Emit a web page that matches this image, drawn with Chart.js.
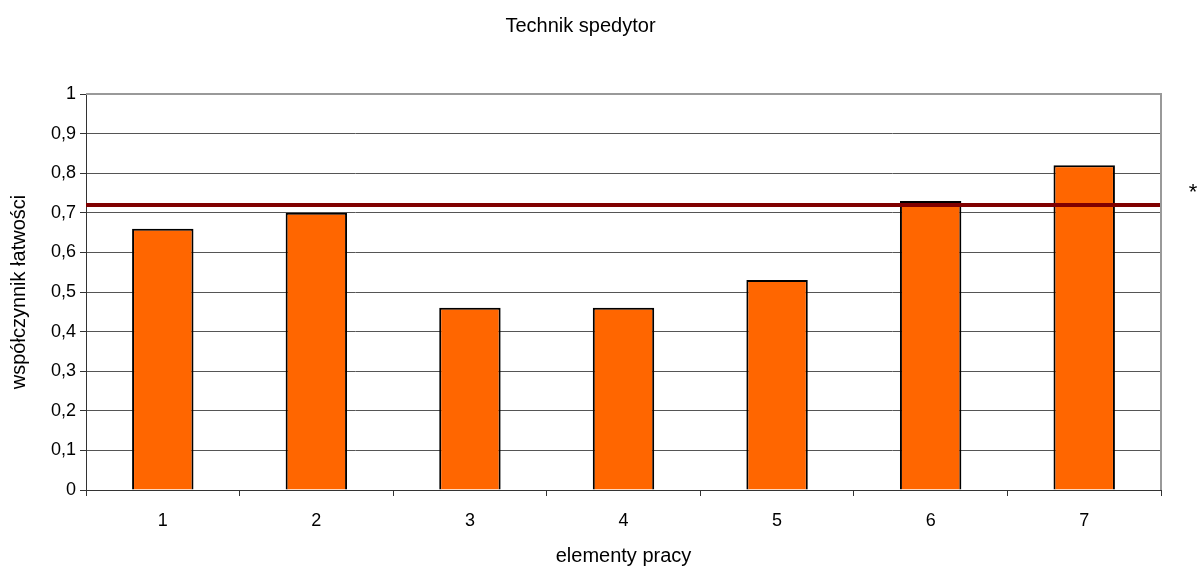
<!DOCTYPE html>
<html><head><meta charset="utf-8">
<script src="https://cdn.jsdelivr.net/npm/chart.js@4/dist/chart.umd.min.js"></script>
<style>html,body{margin:0;padding:0;background:#fff}#wrap{width:1201px;height:568px}</style>
</head><body><div id="wrap"><canvas id="c" width="1201" height="568"></canvas></div>
<script>
const categories = ['1','2','3','4','5','6','7'];
const values = [0.66, 0.70, 0.46, 0.46, 0.53, 0.73, 0.82];
const refValue = 0.72;
const refLabel = '*';
const yTicks = [0,0.1,0.2,0.3,0.4,0.5,0.6,0.7,0.8,0.9,1];
const FONT = "'Liberation Sans', Arial, sans-serif";
const TICK_SIZE = 18;
const TITLE_SIZE = 20;

const framePlugin = {
  id: 'frame',
  afterDraw(chart) {
    const {ctx, chartArea: a, scales} = chart;
    ctx.save();
    ctx.strokeStyle = '#999';
    ctx.lineWidth = 2;
    ctx.beginPath();
    ctx.moveTo(a.left, a.top); ctx.lineTo(a.right, a.top); ctx.lineTo(a.right, a.bottom);
    ctx.stroke();
    const y = scales.y.getPixelForValue(refValue);
    ctx.fillStyle = '#000';
    ctx.font = '22px ' + FONT;
    ctx.textAlign = 'center';
    ctx.textBaseline = 'middle';
    ctx.fillText(refLabel, 1193, y - 12);
    ctx.restore();
  }
};

new Chart(document.getElementById('c'), {
  type: 'bar',
  data: {
    labels: categories,
    datasets: [
      {
        type: 'line',
        data: [{x:0,y:refValue},{x:1,y:refValue}],
        xAxisID: 'x2',
        borderColor: '#800000',
        borderWidth: 4,
        pointRadius: 0,
        order: 0
      },
      {
        type: 'bar',
        data: values,
        xAxisID: 'x',
        backgroundColor: '#FF6600',
        borderColor: '#000',
        borderWidth: 2,
        grouped: false,
        barPercentage: 0.4,
        categoryPercentage: 1,
        order: 1
      }
    ]
  },
  options: {
    responsive: false,
    animation: false,
    layout: { padding: { left: 0, right: 40, top: 0, bottom: 0 } },
    plugins: {
      legend: { display: false },
      tooltip: { enabled: false },
      title: {
        display: true,
        text: 'Technik spedytor',
        color: '#000',
        font: { family: FONT, size: TITLE_SIZE, weight: 'normal' },
        padding: { top: 14, bottom: 56 }
      }
    },
    scales: {
      x: {
        type: 'category',
        offset: true,
        grid: { offset: true, drawOnChartArea: false, drawTicks: true, tickLength: 6, tickColor: '#333' },
        border: { color: '#333', width: 1 },
        ticks: { color: '#000', font: { family: FONT, size: TICK_SIZE }, padding: 14 },
        title: { display: true, text: 'elementy pracy', color: '#000', font: { family: FONT, size: TITLE_SIZE }, padding: { top: 4, bottom: 0 } },
        afterFit(s) { s.height = 78; }
      },
      x2: { type: 'linear', min: 0, max: 1, offset: false, display: false },
      y: {
        min: 0, max: 1,
        afterBuildTicks(s) { s.ticks = yTicks.map(v => ({value: v})); },
        grid: {
          color: ctx => (ctx.tick && ctx.tick.value === 1) ? '#999' : '#555',
          lineWidth: 1,
          tickLength: 6,
          tickColor: '#333'
        },
        border: { color: '#333', width: 1 },
        ticks: {
          color: '#000', font: { family: FONT, size: TICK_SIZE }, padding: 4,
          callback: v => String(v).replace('.', ',')
        },
        title: { display: true, text: 'współczynnik łatwości', color: '#000', font: { family: FONT, size: TITLE_SIZE }, padding: { top: 7, bottom: 2 } },
        afterFit(s) { s.width = 86; }
      }
    }
  },
  plugins: [framePlugin]
});
</script>
</body></html>
